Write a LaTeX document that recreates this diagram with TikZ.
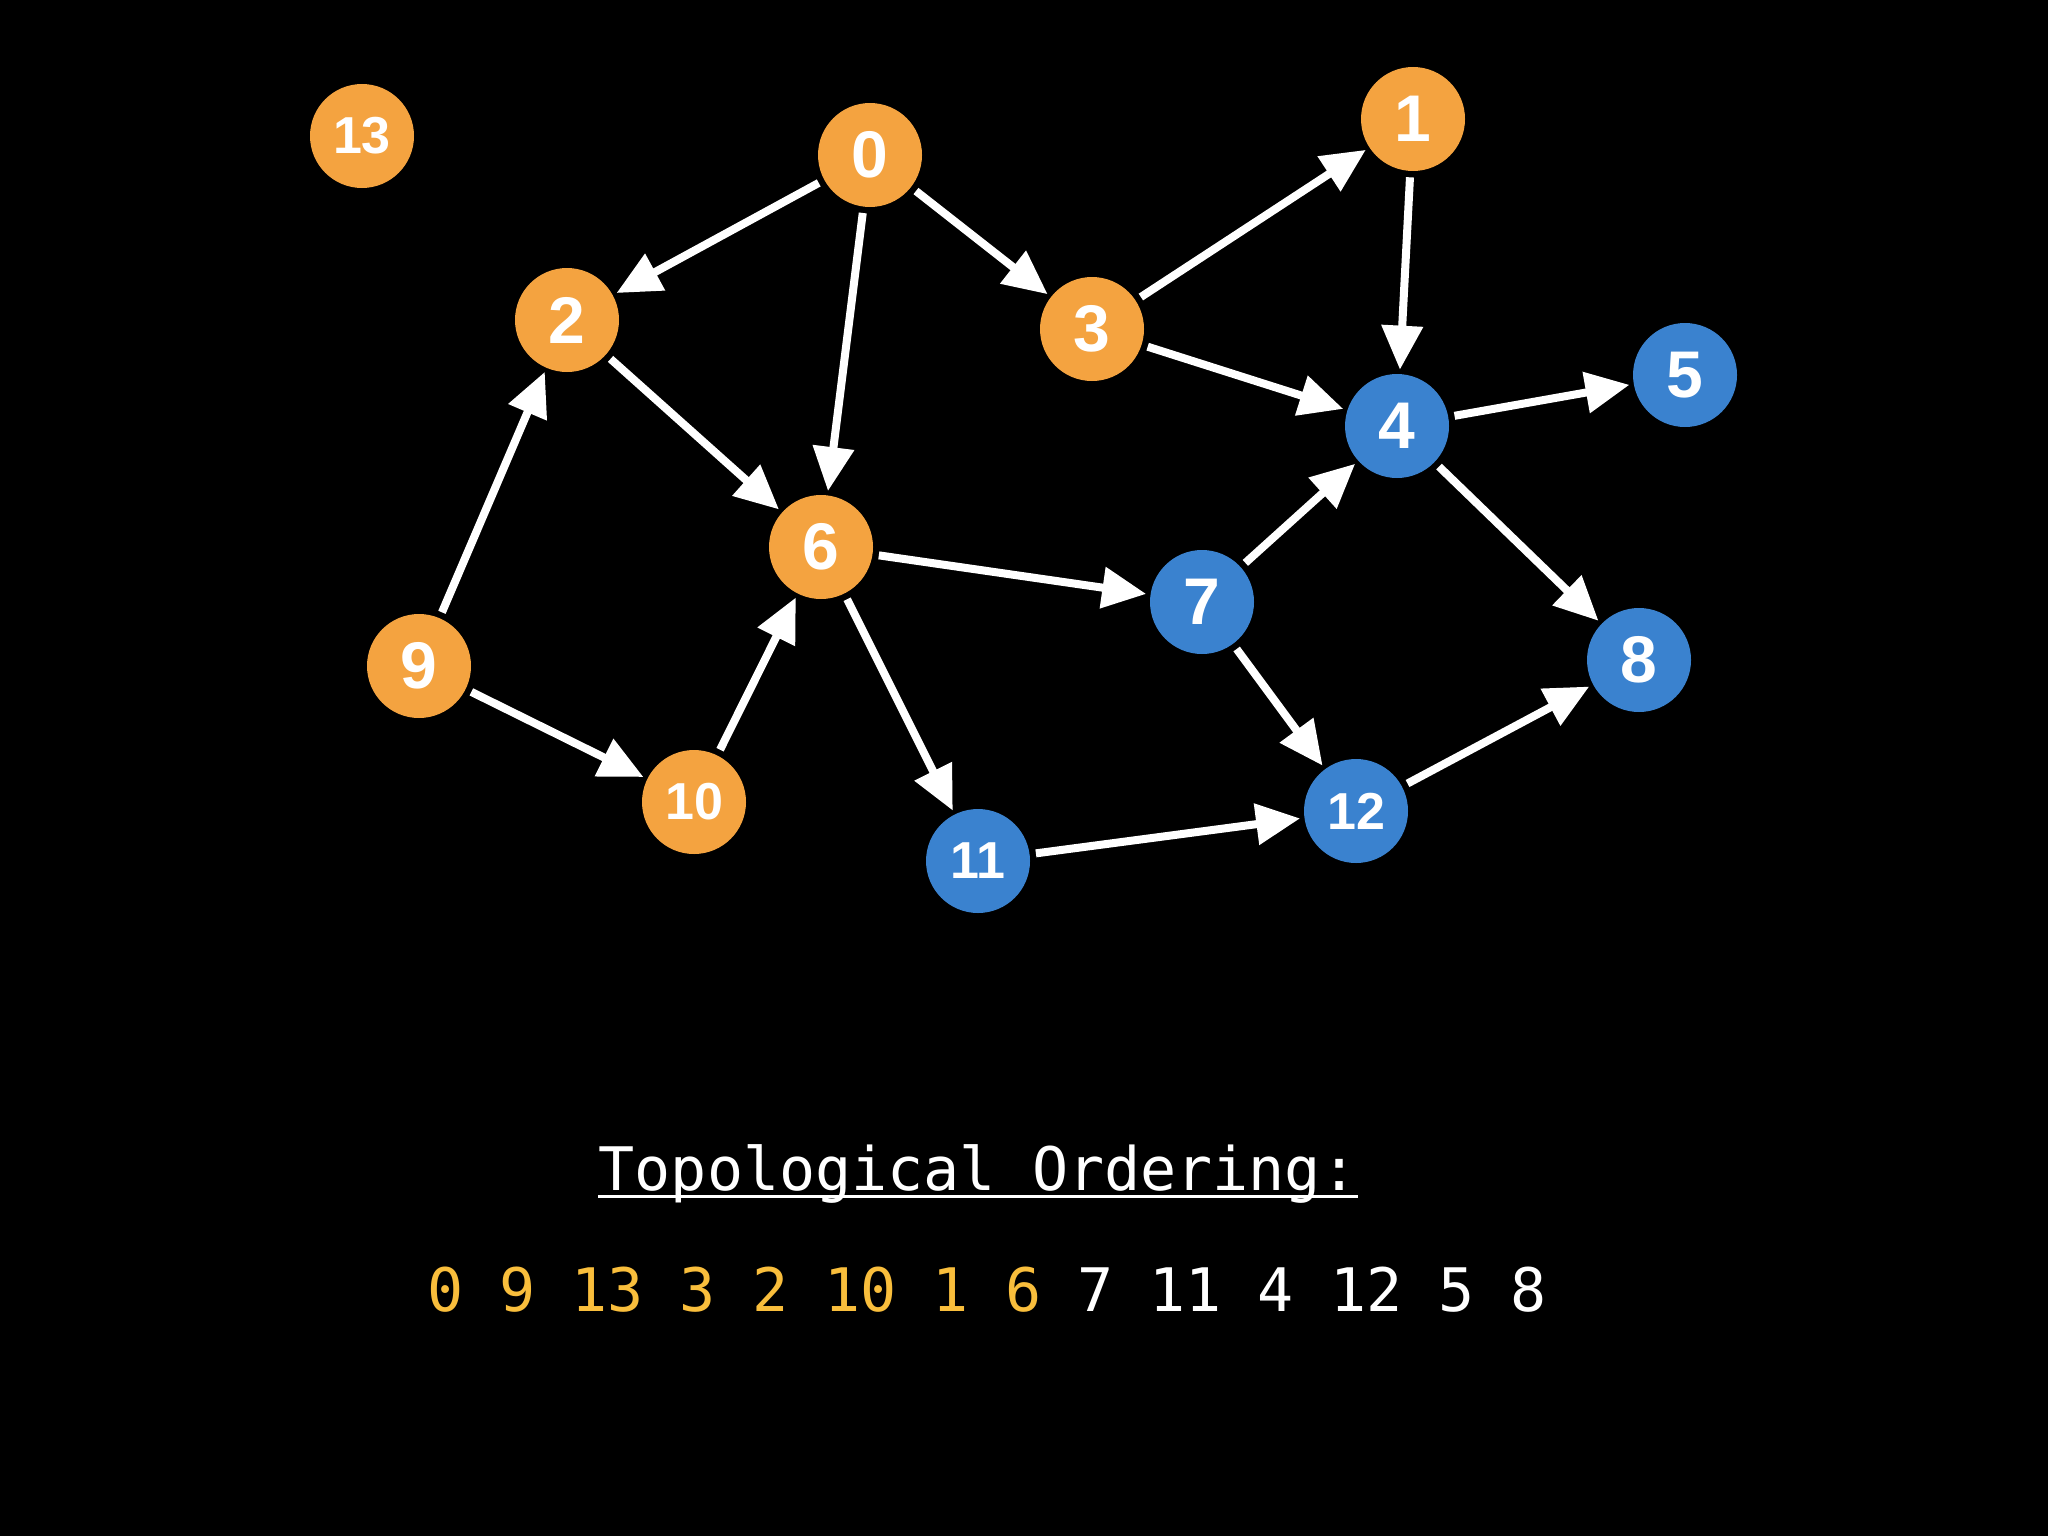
\documentclass[tikz,border=0pt]{standalone}
\usepackage{fontspec}
\setmainfont{Liberation Sans}
\newfontfamily\monofont{DejaVu Sans Mono}
\usetikzlibrary{arrows.meta}
\definecolor{norange}{HTML}{F4A340}
\definecolor{nblue}{HTML}{3A82CF}
\definecolor{tyellow}{HTML}{F9BE3C}
\tikzset{
  vtx/.style={circle, minimum size=52pt, inner sep=0pt, text=white, font=\fontsize{33}{33}\selectfont\bfseries},
  vtxsmall/.style={vtx, font=\fontsize{26}{26}\selectfont\bfseries},
  ov/.style={fill=norange},
  bv/.style={fill=nblue},
  edge/.style={draw=white, line width=4pt, -{Triangle[length=22pt,width=20pt]}, shorten <=3pt, shorten >=2pt},
  mono/.style={font=\monofont\fontsize{30}{30}\selectfont, inner sep=0pt, anchor=base}
}
\begin{document}
\begin{tikzpicture}[x=0.5pt,y=-0.5pt]
\fill[black] (0,0) rectangle (2048,1536);
\useasboundingbox (0,0) rectangle (2048,1536);
\node[vtxsmall,ov] (n13) at (362,136) {13};
\node[vtx,ov] (n0) at (870,155) {0};
\node[vtx,ov] (n1) at (1413,119) {1};
\node[vtx,ov] (n2) at (567,320) {2};
\node[vtx,ov] (n3) at (1092,329) {3};
\node[vtx,bv] (n4) at (1397,426) {4};
\node[vtx,bv] (n5) at (1685,375) {5};
\node[vtx,ov] (n6) at (821,547) {6};
\node[vtx,bv] (n7) at (1202,602) {7};
\node[vtx,bv] (n8) at (1639,660) {8};
\node[vtx,ov] (n9) at (419,666) {9};
\node[vtxsmall,ov] (n10) at (694,802) {10};
\node[vtxsmall,bv] (n11) at (978,861) {11};
\node[vtxsmall,bv] (n12) at (1356,811) {12};
\draw[edge] (n0) -- (n2);
\draw[edge] (n0) -- (n6);
\draw[edge] (n0) -- (n3);
\draw[edge] (n3) -- (n1);
\draw[edge] (n1) -- (n4);
\draw[edge] (n3) -- (n4);
\draw[edge] (n4) -- (n5);
\draw[edge] (n4) -- (n8);
\draw[edge] (n2) -- (n6);
\draw[edge] (n9) -- (n2);
\draw[edge] (n9) -- (n10);
\draw[edge] (n10) -- (n6);
\draw[edge] (n6) -- (n7);
\draw[edge] (n6) -- (n11);
\draw[edge] (n7) -- (n4);
\draw[edge] (n7) -- (n12);
\draw[edge] (n11) -- (n12);
\draw[edge] (n12) -- (n8);
\node[mono, text=white] (title) at (978,1190) {Topological Ordering:};
\draw[white, line width=1.5pt] ([yshift=-3pt]title.base west) -- ([yshift=-3pt]title.base east);
\node[mono] (order) at (987,1311) {\textcolor{tyellow}{0 9 13 3 2 10 1 6} \textcolor{white}{7 11 4 12 5 8}};
\end{tikzpicture}
\end{document}
